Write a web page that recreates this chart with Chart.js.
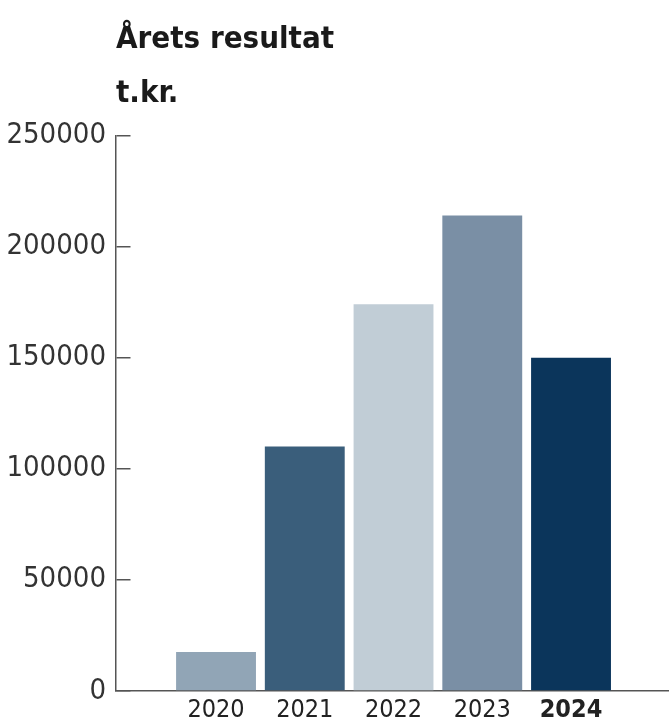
<!DOCTYPE html>
<html>
<head>
<meta charset="utf-8">
<style>
  html, body { margin: 0; padding: 0; background: #fff; overflow: hidden; }
  #wrap { width: 669px; height: 729px; }
</style>
<script src="https://cdn.jsdelivr.net/npm/chart.js@4/dist/chart.umd.min.js"></script>
</head>
<body>
<div id="wrap"><canvas id="result-chart" width="669" height="729"></canvas></div>
<script>
const years = [2020, 2021, 2022, 2023, 2024];
const results = [17500, 110000, 174000, 214000, 150000];
const yTickValues = [0, 50000, 100000, 150000, 200000, 250000];
const titleLines = ["Årets resultat", "t.kr."];

const barColors = ["#91a5b6", "#3a5e7b", "#c1cdd6", "#7a8fa5", "#0b355b"];
const fontFamily = "'Liberation Sans Narrow', 'DejaVu Sans Condensed', sans-serif";
const axisColor = "#555";

new Chart(document.getElementById("result-chart"), {
  type: "bar",
  data: {
    datasets: [
      {
        data: years.map((y, i) => ({ x: y, y: results[i] })),
        backgroundColor: barColors,
        borderWidth: 0,
        barPercentage: 0.9,
        categoryPercentage: 1,
      },
    ],
  },
  options: {
    responsive: false,
    animation: false,
    devicePixelRatio: 1,
    layout: {
      padding: 0,
    },
    plugins: {
      legend: { display: false },
      tooltip: { enabled: false },
      title: {
        display: true,
        text: titleLines,
        align: "start",
        fullSize: false,
        color: "#1a1a1a",
        font: { family: fontFamily, size: 31, weight: "bold", lineHeight: 54 / 31 },
        padding: { top: 12.5, bottom: 15 },
      },
    },
    scales: {
      x: {
        type: "linear",
        offset: false, // bars sit on a linear year axis, no category offset
        min: 2018.873,
        max: 2025.104,
        afterBuildTicks: (scale) => {
          scale.ticks = years.map((v) => ({ value: v }));
        },
        grid: { display: false, drawTicks: false, offset: false },
        border: { display: true, color: axisColor, width: 1.5 },
        ticks: {
          padding: 4,
          color: "#222",
          maxRotation: 0,
          autoSkip: false,
          callback: (v) => String(v),
          font: (ctx) => ({
            family: fontFamily,
            size: 25,
            weight: ctx.tick && ctx.tick.value === 2024 ? "bold" : "normal",
          }),
        },
      },
      y: {
        min: 0,
        max: 250000,
        afterBuildTicks: (scale) => {
          scale.ticks = yTickValues.map((v) => ({ value: v }));
        },
        afterFit: (scale) => {
          scale.width = 116;
        },
        grid: {
          drawOnChartArea: true,
          drawTicks: false,
          color: axisColor,
          lineWidth: 1.5,
        },
        // short dash = tick mark pointing into the plot
        border: { display: true, color: axisColor, width: 1.5, dash: [14, 4000] },
        ticks: {
          padding: 10,
          color: "#333",
          callback: (v) => String(v),
          font: { family: fontFamily, size: 29 },
        },
      },
    },
  },
});
</script>
</body>
</html>
